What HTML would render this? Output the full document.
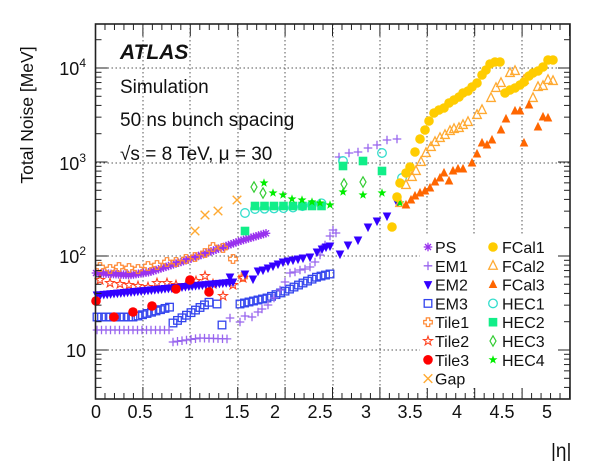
<!DOCTYPE html>
<html><head><meta charset="utf-8"><style>
html,body{margin:0;padding:0;background:#fff;}
svg{display:block;font-family:"Liberation Sans","DejaVu Sans",sans-serif;}
</style></head><body>
<svg id="s" width="600" height="475" viewBox="0 0 600 475" xmlns="http://www.w3.org/2000/svg">
<rect width="600" height="475" fill="#fff"/>
<g id="grid" stroke="#555" stroke-width="1" stroke-dasharray="1.5,2.5"></g>
<g id="data"></g>
<rect x="95.5" y="24" width="474.5" height="375" fill="none" stroke="#222" stroke-width="1.6"/>
<g id="ticks" stroke="#222" stroke-width="1"></g>
<g font-size="18" fill="#111">
<text x="86" y="75" text-anchor="end">10<tspan dy="-8" font-size="12">4</tspan></text>
<text x="86" y="170" text-anchor="end">10<tspan dy="-8" font-size="12">3</tspan></text>
<text x="86" y="263" text-anchor="end">10<tspan dy="-8" font-size="12">2</tspan></text>
<text x="86" y="357" text-anchor="end">10</text>
<g text-anchor="middle">
<text x="96" y="418">0</text><text x="140" y="418">0.5</text><text x="189" y="418">1</text><text x="237" y="418">1.5</text><text x="275" y="418">2</text><text x="320" y="418">2.5</text><text x="366" y="418">3</text><text x="410" y="418">3.5</text><text x="457" y="418">4</text><text x="502" y="418">4.5</text><text x="547" y="418">5</text>
</g>
<text x="551" y="457" font-size="19">|η|</text>
<text transform="translate(33,115) rotate(-90)" text-anchor="middle" font-size="17.5">Total Noise [MeV]</text>
<text x="120" y="59" font-size="21" font-weight="bold" font-style="italic">ATLAS</text>
<text x="120" y="93" font-size="19">Simulation</text>
<text x="120" y="126" font-size="19">50 ns bunch spacing</text>
<text x="120" y="160" font-size="19">√s = 8 TeV, μ = 30</text>
</g>
<g id="legend" font-size="16" fill="#111"></g>
</svg>
<script>
var NS="http://www.w3.org/2000/svg";
function el(p,t,a){var e=document.createElementNS(NS,t);for(var k in a)e.setAttribute(k,a[k]);p.appendChild(e);return e;}
var G=document.getElementById('grid'),T=document.getElementById('ticks'),D=document.getElementById('data'),L=document.getElementById('legend');
var L0=95.5,R0=570,TOP=24,BOT=399;
var gx=[143,190,238,285,333,380,427,474,522];
gx.forEach(function(x){el(G,'line',{x1:x,y1:TOP,x2:x,y2:BOT});});
[68,163,256,350].forEach(function(y){el(G,'line',{x1:L0,y1:y,x2:R0,y2:y});});
for(var i=0;i<=50;i++){var x=L0+i*9.48;if(x>R0)break;var len=(i%5==0)?12:6;
el(T,'line',{x1:x,y1:BOT,x2:x,y2:BOT-len});el(T,'line',{x1:x,y1:TOP,x2:x,y2:TOP+len});}
function yv(v){return 350-94*(Math.log10(v)-1);}
for(var d=0;d<5;d++){for(var m=1;m<10;m++){var v=Math.pow(10,d)*m;var y=yv(v);if(y<TOP||y>BOT)continue;var len=(m==1)?12:6;
el(T,'line',{x1:L0,y1:y,x2:L0+len,y2:y});el(T,'line',{x1:R0,y1:y,x2:R0-len,y2:y});}}
function mk(g,type,x,y,c){var s=4.3;
switch(type){
case 'ast':[[0,-1],[1,0],[0.7,0.7],[0.7,-0.7]].forEach(function(d){el(g,'line',{x1:x-d[0]*s,y1:y-d[1]*s,x2:x+d[0]*s,y2:y+d[1]*s,stroke:c,'stroke-width':1.3});});break;
case 'plus':el(g,'path',{d:'M'+(x-s)+' '+y+'h'+2*s+'M'+x+' '+(y-s)+'v'+2*s,stroke:c,'stroke-width':1.3,fill:'none'});break;
case 'x':el(g,'path',{d:'M'+(x-s)+' '+(y-s)+'l'+2*s+' '+2*s+'M'+(x+s)+' '+(y-s)+'l'+(-2*s)+' '+2*s,stroke:c,'stroke-width':1.4,fill:'none'});break;
case 'tdown':el(g,'path',{d:'M'+(x-s)+' '+(y-s*0.8)+'h'+2*s+'l'+(-s)+' '+2*s+'z',fill:c});break;
case 'tup':el(g,'path',{d:'M'+(x-s)+' '+(y+s*0.8)+'h'+2*s+'l'+(-s)+' '+(-2*s)+'z',fill:c});break;
case 'otup':el(g,'path',{d:'M'+(x-s)+' '+(y+s*0.8)+'h'+2*s+'l'+(-s)+' '+(-2*s)+'z',fill:'none',stroke:c,'stroke-width':1.3});break;
case 'osq':el(g,'rect',{x:x-s+0.5,y:y-s+0.5,width:2*s-1,height:2*s-1,fill:'none',stroke:c,'stroke-width':1.3});break;
case 'sq':el(g,'rect',{x:x-s,y:y-s,width:2*s,height:2*s,fill:c});break;
case 'circ':el(g,'circle',{cx:x,cy:y,r:s+0.5,fill:c});break;
case 'ocirc':el(g,'circle',{cx:x,cy:y,r:s,fill:'none',stroke:c,'stroke-width':1.3});break;
case 'odia':el(g,'path',{d:'M'+x+' '+(y-s*1.2)+'l'+s*0.7+' '+s*1.2+'l'+(-s*0.7)+' '+s*1.2+'l'+(-s*0.7)+' '+(-s*1.2)+'z',fill:'none',stroke:c,'stroke-width':1.2});break;
case 'ocross':var a=s*0.4;el(g,'path',{d:'M'+(x-a)+' '+(y-s)+'h'+2*a+'v'+(s-a)+'h'+(s-a)+'v'+2*a+'h'+(a-s)+'v'+(s-a)+'h'+(-2*a)+'v'+(a-s)+'h'+(a-s)+'v'+(-2*a)+'h'+(s-a)+'z',fill:'none',stroke:c,'stroke-width':1.2});break;
case 'star':case 'ostar':var p='';for(var k=0;k<10;k++){var r=(k%2==0)?s*1.1:s*0.45;var an=-Math.PI/2+k*Math.PI/5;p+=(k?'L':'M')+(x+r*Math.cos(an)).toFixed(1)+' '+(y+r*Math.sin(an)).toFixed(1);}
if(type=='star')el(g,'path',{d:p+'z',fill:c});else el(g,'path',{d:p+'z',fill:'none',stroke:c,'stroke-width':1.1});break;
}}
var C={PS:'#9933ee',EM1:'#9966ee',EM2:'#3300ff',EM3:'#3344ee',Tile1:'#ff8833',Tile2:'#ff4422',Tile3:'#ff0000',Gap:'#ffaa33',FCal1:'#ffcc00',FCal2:'#ffaa33',FCal3:'#ff6600',HEC1:'#33ddcc',HEC2:'#11ee88',HEC3:'#33cc33',HEC4:'#00ee00'};
function lin(x0,x1,step,f){var r=[];for(var x=x0;x<=x1+0.01;x+=step)r.push([x,f(x)]);return r;}
function interp(pts){return function(x){for(var i=1;i<pts.length;i++){if(x<=pts[i][0]){var a=pts[i-1],b=pts[i];return a[1]+(b[1]-a[1])*(x-a[0])/(b[0]-a[0]);}}return pts[pts.length-1][1];};}
var S={};
S.PS=['ast',lin(96,267,2.5,interp([[96,273],[130,275],[150,272],[190,259],[240,241],[267,233]]))];
S.EM1=['plus',[].concat(lin(97,170,4.5,function(){return 330;}),lin(173,230,4.5,interp([[173,342],[200,338],[230,339]])),
[[230,318],[240,322],[245,316],[252,317],[258,312],[262,309],[268,305],[274,298],[280,290],[285,282],[290,273],[295,272],[300,270],[305,269],[310,267],[315,262],[320,255],[325,245],[330,236],[333,230],[336,233],[339,157],[349,153],[358,152],[368,148],[377,145],[387,140],[397,139]])];
S.EM2=['tdown',[].concat(lin(97,233,3.4,interp([[97,295],[150,290],[190,286],[233,282]])),
[[230,277],[245,274],[253,279],[258,271],[263,270],[268,268],[273,266],[278,264],[283,262],[288,261],[293,260],[298,259],[303,258],[310,257],[317,252],[322,249],[326,247],[330,246],[340,254],[348,245],[358,240],[368,227],[377,221],[387,216],[397,202]])];
S.EM3=['osq',[].concat(lin(97,133,4.5,function(){return 317;}),lin(138,170,4.5,interp([[138,316],[170,307]])),lin(173,213,4.5,interp([[173,323],[213,300]])),[[217,304],[222,325]],lin(240,330,4.5,interp([[240,304],[267,298],[283,292],[303,283],[317,277],[330,274]])))];
S.Tile1=['ocross',[[100,267],[110,269],[119,267],[129,268],[138,269],[148,266],[157,265],[167,262],[176,262],[186,259],[195,257],[205,253],[213,247],[223,248],[233,259],[243,277]]];
S.Tile2=['ostar',[[100,280],[110,283],[120,284],[129,285],[138,286],[148,287],[157,283],[167,283],[176,285],[186,285],[196,281],[205,276],[213,284],[223,296],[233,285],[243,278]]];
S.Tile3=['circ',[[96,301],[114,317],[133,312],[152,306],[176,289],[190,280],[209,292]]];
S.Gap=['x',[[195,231],[205,215],[218,211],[237,200]]];
S.HEC1=['ocirc',[].concat([[245,213]],lin(255,330,9.5,interp([[255,209],[290,208],[330,202]])),[[343,161],[382,153],[402,178]])];
S.HEC2=['sq',[].concat([[245,231]],lin(255,330,9.5,function(){return 206;}),[[343,166],[363,161],[382,171]])];
S.HEC3=['odia',[[254,187],[263,193],[344,184],[363,182]]];
S.HEC4=['star',[[264,183],[273,193],[283,195],[292,199],[302,200],[312,202],[320,203],[330,205],[343,192],[363,195],[382,193],[400,203]]];
S.FCal1=['circ',[[397,197],[392,227],[400,183],[406,173],[410,167],[415,152],[420,139],[425,130],[429,121],[434,113],[439,110],[444,108],[449,103],[454,100],[459,97],[463,93],[468,91],[472,87],[477,83],[482,75],[486,70],[490,64],[495,62],[500,62],[505,93],[510,90],[515,88],[520,85],[524,82],[529,76],[533,73],[538,71],[543,67],[548,60],[553,60]]];
S.FCal2=['otup',[[400,203],[406,185],[412,177],[416,171],[421,162],[426,153],[431,147],[435,142],[440,138],[445,135],[450,131],[454,129],[459,128],[463,125],[468,122],[477,115],[482,110],[491,98],[496,88],[501,83],[510,73],[515,71],[524,80],[533,98],[538,87],[543,86],[548,80],[553,81]]];
S.FCal3=['tup',[[406,205],[411,200],[415,196],[420,193],[425,191],[430,188],[435,182],[440,178],[444,173],[449,181],[453,171],[458,169],[463,169],[472,163],[477,154],[482,143],[487,145],[492,140],[501,130],[506,119],[515,111],[520,111],[524,143],[529,105],[538,127],[543,117],[548,118]]];
['PS','EM3','EM1','Tile1','Tile2','EM2','Tile3','Gap','HEC1','HEC2','HEC3','HEC4','FCal2','FCal3','FCal1'].forEach(function(n){var s=S[n];s[1].forEach(function(p){mk(D,s[0],p[0],p[1],C[n]);});});
el(L,'rect',{x:420,y:236,width:138,height:152,fill:'#fff'});
var c1=[['PS','ast'],['EM1','plus'],['EM2','tdown'],['EM3','osq'],['Tile1','ocross'],['Tile2','ostar'],['Tile3','circ'],['Gap','x']];
var c2=[['FCal1','circ'],['FCal2','otup'],['FCal3','tup'],['HEC1','ocirc'],['HEC2','sq'],['HEC3','odia'],['HEC4','star']];
c1.forEach(function(e,i){var y=247+i*18.8;mk(L,e[1],428,y,C[e[0]]);var t=el(L,'text',{x:435,y:y+6});t.textContent=e[0];});
c2.forEach(function(e,i){var y=247+i*18.8;mk(L,e[1],493,y,C[e[0]]);var t=el(L,'text',{x:502,y:y+6});t.textContent=e[0];});
</script>
</body></html>
